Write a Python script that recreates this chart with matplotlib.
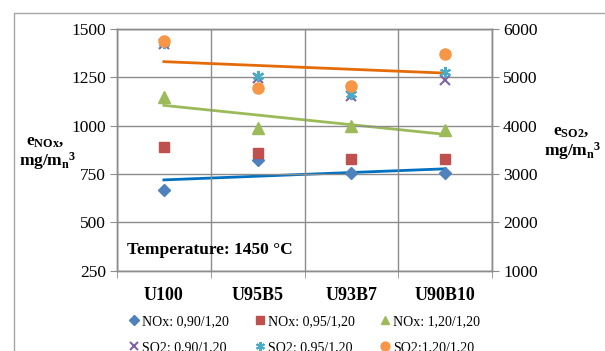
import numpy as np
import matplotlib
matplotlib.use("Agg")
import matplotlib.pyplot as plt
from matplotlib.patches import Rectangle

plt.rcParams["font.family"] = ["Liberation Serif", "DejaVu Serif"]
plt.rcParams["mathtext.fontset"] = "custom"
plt.rcParams["mathtext.rm"] = "Liberation Serif"
plt.rcParams["mathtext.bf"] = "Liberation Serif:bold"
plt.rcParams["mathtext.it"] = "Liberation Serif:italic"

categories = ["U100", "U95B5", "U93B7", "U90B10"]

# NOx (left axis), mg/m_n^3
nox_090 = [667, 820, 753, 753]
nox_095 = [891, 857, 828, 828]
nox_120 = [1150, 990, 1000, 980]

# SO2 (right axis), mg/m_n^3
so2_090 = [5680, 4990, 4620, 4942]
so2_095 = [5720, 5020, 4660, 5114]
so2_120 = [5750, 4782, 4817, 5475]

left_ticks = [250, 500, 750, 1000, 1250, 1500]
right_ticks = [1000, 2000, 3000, 4000, 5000, 6000]

W, H = 605, 351
fig = plt.figure(figsize=(W / 100, H / 100), dpi=100)

# chart area border (cut off at right / bottom as in the source)
fig.patches.append(Rectangle((14 / W, -0.1), 1.2, (H - 13) / H + 0.1,
                             transform=fig.transFigure, fill=False,
                             edgecolor="#a6a6a6", linewidth=1.0))

ax = fig.add_axes([117 / W, 1 - 270.7 / H, 375 / W, 241.7 / H])
ax2 = ax.twinx()

x = np.arange(len(categories))
grid_c = "#8c8c8c"

ax.set_xlim(-0.5, 3.5)
ax.set_ylim(250, 1500)
ax2.set_ylim(1000, 6000)
ax.set_yticks(left_ticks)
ax2.set_yticks(right_ticks)
ax.set_xticks(x)
ax.set_xticklabels(categories, fontweight="bold", fontsize=13)
ax.set_xticks(np.arange(-0.5, 4.0, 1.0), minor=True)
ax.tick_params(axis="x", which="major", length=0, pad=12)
ax.tick_params(axis="x", which="minor", length=5, color=grid_c, direction="out")
ax.tick_params(axis="y", length=5, color=grid_c, labelsize=12.5, pad=3)
ax2.tick_params(axis="y", length=5, color=grid_c, labelsize=12.5, pad=3)
ax.grid(True, which="minor", axis="x", color=grid_c, linewidth=1.0)
ax.grid(True, which="major", axis="y", color=grid_c, linewidth=1.0)
for a in (ax, ax2):
    for s in a.spines.values():
        s.set_color(grid_c)
        s.set_linewidth(1.0)
ax.set_zorder(1)
ax2.set_zorder(2)
ax2.patch.set_visible(False)

ms = 7
l_n090, = ax.plot(x, nox_090, "D", color="#4f81bd", ms=6.5, ls="none", label="NOx: 0,90/1,20")
l_n095, = ax.plot(x, nox_095, "s", color="#c0504d", ms=ms, ls="none", label="NOx: 0,95/1,20")
l_n120, = ax.plot(x, nox_120, "^", color="#9bbb59", ms=ms + 1, ls="none", label="NOx: 1,20/1,20")
l_s090, = ax2.plot(x, so2_090, "x", color="#8064a2", ms=ms, mew=1.5, ls="none", label="SO2: 0,90/1,20")
l_s095, = ax2.plot(x, so2_095, marker=(6, 2, 0), color="#4bacc6", ms=ms + 1, mew=1.5, ls="none", label="SO2: 0,95/1,20")
l_s120, = ax2.plot(x, so2_120, "o", color="#f79646", ms=ms + 1, ls="none", label="SO2:1,20/1,20")

# linear trend lines
for data, axis, col in [(nox_090, ax, "#0070c0"), (nox_120, ax, "#9bbb59"),
                        (so2_120, ax2, "#e36c09")]:
    k, b = np.polyfit(x, data, 1)
    axis.plot(x, k * x + b, color=col, linewidth=2.0, zorder=1)

ax.text(0.027, 0.086, "Temperature: 1450 °C", transform=ax.transAxes,
        fontsize=12.5, fontweight="bold", va="center", ha="left")

# axis titles
fig.text(45 / W, 1 - 141 / H, r"$\mathbf{e_{NOx}}$,", fontsize=12.5, fontweight="bold",
         ha="center", va="center")
fig.text(48 / W, 1 - 161 / H, r"mg/m$_\mathbf{n}$$^\mathbf{3}$", fontsize=12.5,
         fontweight="bold", ha="center", va="center")
fig.text(571 / W, 1 - 131 / H, r"$\mathbf{e_{SO2}}$,", fontsize=12.5, fontweight="bold",
         ha="center", va="center")
fig.text(573 / W, 1 - 151 / H, r"mg/m$_\mathbf{n}$$^\mathbf{3}$", fontsize=12.5,
         fontweight="bold", ha="center", va="center")

handles = [l_n090, l_s090, l_n095, l_s095, l_n120, l_s120]
fig.legend(handles=handles, labels=[h.get_label() for h in handles], ncol=3,
           loc="upper left", bbox_to_anchor=(130 / W, 1 - 315 / H), frameon=False,
           fontsize=10, handlelength=0.6, handletextpad=0.3, columnspacing=1.88,
           labelspacing=0.95, borderaxespad=0, borderpad=0, markerscale=0.8)

fig.savefig("out.png", dpi=100)
